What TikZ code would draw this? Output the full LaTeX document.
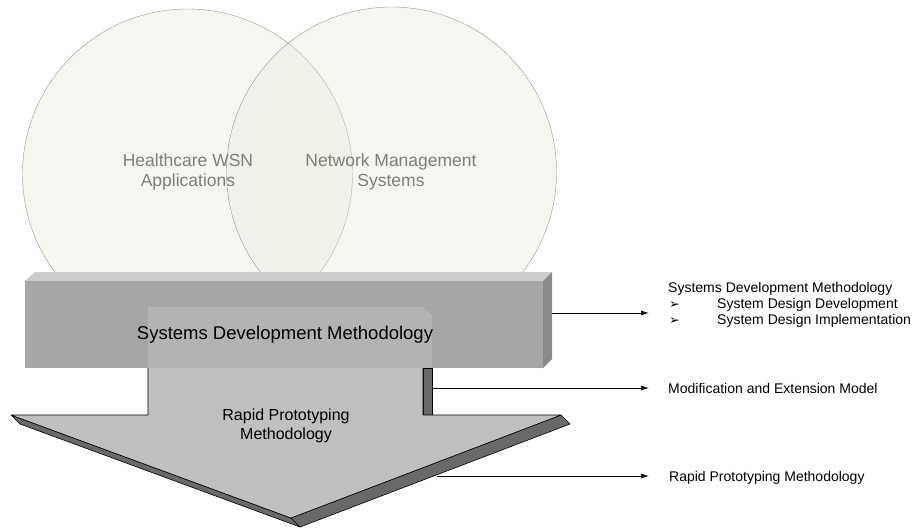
\documentclass[tikz,border=0pt]{standalone}
\usepackage{fontspec}
\setmainfont{Liberation Sans}
\newfontfamily\symfont{DejaVu Sans}
\usetikzlibrary{
  arrows.meta,
  positioning,
  calc
}
\definecolor{VennFill}{RGB}{230,230,214}
\definecolor{VennLine}{RGB}{150,150,140}
\definecolor{VennText}{RGB}{125,125,125}
\definecolor{BarFront}{RGB}{166,166,166}
\definecolor{BarTop}{RGB}{204,204,204}
\definecolor{BarSide}{RGB}{138,138,138}
\definecolor{ArrFront}{RGB}{192,192,192}
\definecolor{ArrSide}{RGB}{105,105,105}
\tikzset{
  %%-- Venn circles ----------------------------------------------
  venn/.style = {
    circle, draw = VennLine, line width = 0.4pt,
    fill = VennFill, fill opacity = 0.35,
    minimum size = 330pt, inner sep = 0pt
  },
  vennlbl/.style = {
    align = center, text = VennText,
    font = \fontsize{17.5}{20}\selectfont
  },
  %%-- 3D bar and arrow -----------------------------------------
  barlbl/.style = {font = \fontsize{18.5}{21}\selectfont},
  arrlbl/.style = {align = center, font = \fontsize{16}{19}\selectfont},
  arrside/.style = {fill = ArrSide, draw = black, line width = 0.6pt, line join = round},
  arredge/.style = {draw = black, line width = 0.6pt, line join = round},
  %%-- notes on the right ---------------------------------------
  note/.style = {inner sep = 0pt, font = \fontsize{14}{16}\selectfont},
  conn/.style = {-{Latex[length=8pt, width=5pt]}, line width = 0.8pt, color = black},
}
\begin{document}
\begin{tikzpicture}[x=1pt, y=-1pt]
  \useasboundingbox (0,0) rectangle (920,529);
  % Venn diagram
  \node[venn] (hwsn) at (187.5,174) {};
  \node[venn] (nms)  at (391.5,172) {};
  \node[vennlbl] (hwsnLbl) at (188,172) {Healthcare WSN\\Applications};
  \node[vennlbl] (nmsLbl)  at (391,172) {Network Management\\Systems};
  % bar
  \fill[BarTop]   (25,281) -- (35,272) -- (552,272) -- (543,281) -- cycle;
  \fill[BarSide]  (543,281) -- (552,272) -- (552,359) -- (543,368) -- cycle;
  \fill[BarFront] (25,281) rectangle (543,368);
  \fill[ArrFront, fill opacity=0.5]
    (148,307) -- (423,307) -- (432,316) -- (432,368) -- (148,368) -- cycle;
  \node[barlbl] (sdmBar) at (285,335) {Systems Development Methodology};
  % arrow
  \filldraw[arrside] (11,415) -- (291,518) -- (300,527) -- (20,424) -- cycle;
  \filldraw[arrside] (291,518) -- (561,415) -- (570,424) -- (300,527) -- cycle;
  \filldraw[arrside] (423,368) rectangle (432,415);
  \fill[ArrFront]
    (148,368) -- (148,415) -- (11,415) -- (291,518) -- (561,415) -- (423,415) -- (423,368) -- cycle;
  \draw[arredge]
    (148,368) -- (148,415) -- (11,415) -- (291,518) -- (561,415) -- (423,415) -- (423,368);
  \node[arrlbl] (rpmArr) at (286,426) {Rapid Prototyping\\Methodology};
  % notes
  \node[note, anchor=base west] (sdmHead)  at (668,292) {Systems Development Methodology};
  \node[note, anchor=base west] (sdmItemA) at (669,308)
    {\makebox[48pt][l]{\symfont\fontsize{12.5}{14}\selectfont ➢}System Design Development};
  \node[note, anchor=base west] (sdmItemB) at (669,324)
    {\makebox[48pt][l]{\symfont\fontsize{12.5}{14}\selectfont ➢}System Design Implementation};
  \node[note, anchor=base west] (modNote)  at (668,393) {Modification and Extension Model};
  \node[note, anchor=base west] (rpmNote)  at (669,481) {Rapid Prototyping Methodology};
  % connectors
  \coordinate (barR)   at (552,313);
  \coordinate (stemR)  at (432,388);
  \coordinate (headR)  at (437,476);
  \coordinate (tipcol) at (649,0);
  \draw[conn] (barR)  -- (barR -| tipcol);
  \draw[conn] (stemR) -- (stemR -| tipcol);
  \draw[conn] (headR) -- (headR -| tipcol);
\end{tikzpicture}
\end{document}
